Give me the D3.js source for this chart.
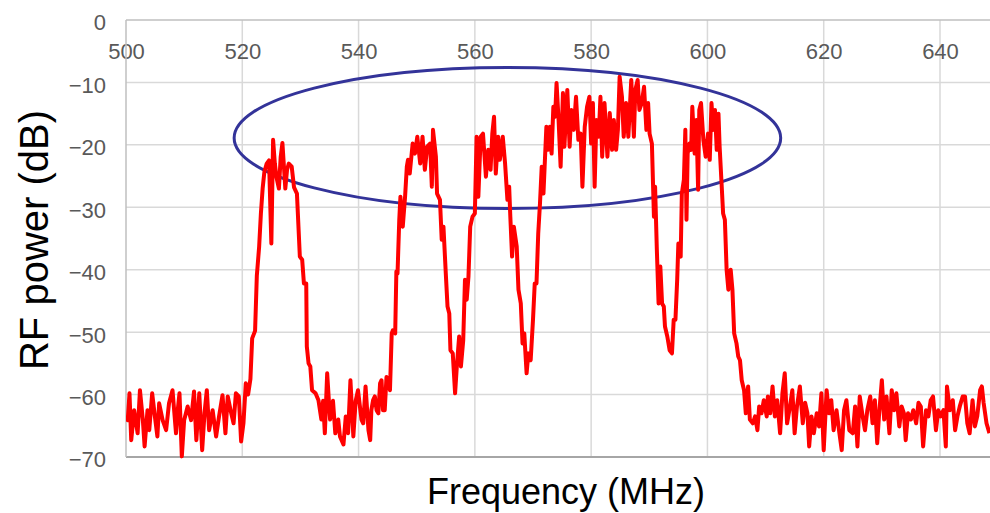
<!DOCTYPE html>
<html>
<head>
<meta charset="utf-8">
<script src="https://cdn.jsdelivr.net/npm/d3@7"></script>
<style>
  html, body { margin: 0; padding: 0; background: #fff; }
  svg { display: block; }
  text { font-family: "Liberation Sans", Arial, sans-serif; }
</style>
</head>
<body>
<svg id="chart" width="990" height="513"></svg>
<script>
// ---- data ----
const xTicks = [500, 520, 540, 560, 580, 600, 620, 640];
const yTicks = [0, -10, -20, -30, -40, -50, -60, -70];

const freqMHz = [
  500.0,500.3,500.6,500.9,501.4,502.0,502.4,502.9,503.2,503.7,504.0,504.5,504.9,505.4,505.7,506.3,506.9,507.4,508.0,508.6,
  508.9,509.2,509.6,510.0,510.6,511.2,511.7,512.1,512.6,513.1,513.5,513.9,514.3,514.9,515.5,516.0,516.6,517.1,517.5,518.1,
  518.5,518.9,519.4,519.8,520.2,520.6,521.0,521.4,521.7,522.2,522.5,522.9,523.2,523.5,523.8,524.2,524.6,525.0,525.3,525.6,
  525.9,526.3,526.6,526.9,527.2,527.4,527.7,528.0,528.5,528.9,529.4,529.9,530.3,530.6,531.0,531.1,531.4,531.7,532.0,532.6,
  533.1,533.6,533.9,534.2,534.6,535.1,535.6,536.0,536.5,536.8,537.4,537.8,538.2,538.6,539.1,539.5,539.9,540.5,540.8,541.2,
  541.7,542.0,542.2,542.5,542.8,543.1,543.4,543.7,543.95,544.2,544.5,544.8,545.1,545.4,545.7,545.9,546.3,546.5,546.7,547.0,
  547.2,547.6,548.0,548.3,548.5,548.8,549.3,549.7,550.1,550.6,551.0,551.4,551.8,552.3,552.6,552.8,553.3,553.5,554.0,554.3,
  554.6,555.0,555.3,555.6,555.8,556.2,556.6,556.9,557.3,557.6,558.0,558.3,558.6,558.9,559.2,559.6,560.0,560.3,560.6,561.0,
  561.4,561.9,562.3,562.7,563.0,563.3,563.6,564.0,564.3,564.8,565.2,565.6,565.9,566.1,566.4,566.7,567.2,567.5,567.9,568.2,
  568.5,568.9,569.2,569.6,570.0,570.3,570.6,570.9,571.2,571.5,571.8,572.0,572.3,572.6,572.9,573.2,573.5,573.8,574.05,574.4,
  574.75,575.15,575.4,575.9,576.3,576.6,577.0,577.4,577.8,578.2,578.5,578.9,579.3,579.7,580.0,580.3,580.6,580.9,581.3,581.6,
  581.9,582.3,582.8,583.2,583.6,583.9,584.3,584.6,584.9,585.3,585.6,586.0,586.4,586.9,587.35,587.6,588.0,588.3,588.7,589.1,
  589.5,589.8,590.05,590.45,590.8,591.0,591.3,591.6,591.9,592.2,592.5,592.7,593.1,593.5,593.9,594.2,594.5,594.8,595.0,595.4,
  595.6,595.95,596.2,596.4,596.6,596.9,597.2,597.4,597.8,598.1,598.4,598.6,598.9,599.3,599.7,600.1,600.4,600.7,601.0,601.3,
  601.6,601.9,602.1,602.4,602.7,603.0,603.3,603.6,604.0,604.3,604.6,605.0,605.3,605.6,605.9,606.3,606.6,607.0,607.3,607.8,
  608.2,608.6,608.9,609.3,609.7,610.2,610.4,610.8,611.2,611.6,612.0,612.5,612.9,613.3,613.7,614.2,614.6,615.0,615.4,615.9,
  616.4,616.8,617.2,617.5,617.9,618.3,618.8,619.2,619.6,620.0,620.5,620.9,621.3,621.7,622.2,622.7,623.1,623.5,623.9,624.4,
  625.0,625.4,625.8,626.2,626.7,627.1,627.5,628.0,628.4,628.8,629.2,629.5,630.0,630.4,630.8,631.3,631.7,632.1,632.5,633.0,
  633.4,633.8,634.1,634.5,635.0,635.4,635.9,636.3,636.7,637.1,637.6,638.0,638.4,638.8,639.3,639.7,640.1,640.6,641.0,641.2,
  641.7,642.2,642.6,643.0,643.4,643.9,644.3,644.7,645.1,645.6,646.0,646.4,646.9,647.2,647.5,648.0,648.5
];

const powerDb = [
  -63.5,-64.1,-59.8,-67.3,-62.5,-66.2,-59.3,-64.1,-68.3,-62.5,-65.7,-59.8,-63.0,-66.7,-61.4,-64.1,-65.7,-61.4,-59.3,-66.2,
  -62.5,-59.8,-69.9,-64.1,-61.9,-64.1,-59.5,-67.3,-59.8,-68.9,-63.0,-59.3,-65.7,-62.5,-66.7,-63.5,-60.1,-66.2,-60.3,-63.0,
  -64.6,-59.8,-60.3,-67.5,-64.6,-58.2,-60.0,-57.5,-51.0,-49.8,-41.0,-36.3,-31.0,-27.0,-24.3,-23.0,-22.5,-35.8,-19.2,-23.0,
  -25.3,-27.0,-22.0,-19.7,-24.0,-27.0,-24.0,-23.0,-23.5,-26.8,-27.8,-37.9,-38.4,-42.2,-42.2,-52.3,-55.0,-55.5,-59.3,-59.8,
  -60.9,-64.0,-61.0,-66.2,-56.6,-64.0,-61.0,-66.2,-64.0,-66.7,-68.0,-63.5,-66.2,-57.7,-66.7,-61.0,-59.3,-64.0,-64.6,-58.7,
  -65.7,-67.3,-62.5,-60.9,-60.3,-62.5,-63.0,-58.2,-57.7,-62.5,-62.5,-57.2,-57.7,-59.3,-50.2,-49.7,-50.2,-40.3,-40.6,-32.0,
  -28.3,-33.1,-28.3,-23.5,-22.4,-24.6,-19.8,-21.4,-18.7,-23.0,-18.7,-24.0,-20.3,-19.8,-26.7,-17.6,-21.9,-27.8,-28.8,-35.2,
  -33.1,-40.6,-45.9,-47.0,-52.9,-53.4,-59.8,-55.5,-50.7,-55.5,-51.3,-41.6,-44.8,-41.1,-33.1,-31.5,-31.0,-18.7,-28.3,-18.7,
  -18.2,-25.1,-20.8,-24.0,-18.2,-15.5,-24.6,-18.7,-22.4,-18.7,-23.0,-28.8,-26.7,-31.5,-37.9,-33.1,-36.3,-43.2,-45.4,-51.8,
  -50.2,-56.6,-53.4,-54.5,-48.0,-42.2,-42.2,-34.2,-29.4,-23.5,-27.8,-23.5,-17.1,-20.8,-17.1,-21.4,-13.9,-15.5,-10.1,-16.0,
  -23.5,-11.7,-20.3,-11.2,-20.3,-14.4,-17.6,-12.3,-19.2,-18.2,-26.7,-17.1,-13.9,-12.3,-19.8,-13.3,-26.7,-16.0,-18.7,-12.3,
  -21.9,-13.3,-21.9,-14.9,-20.8,-16.0,-20.8,-17.6,-9.1,-12.3,-18.7,-13.3,-18.7,-9.6,-18.7,-11.2,-9.6,-14.4,-13.3,-10.7,
  -17.6,-13.3,-18.2,-19.8,-31.5,-26.7,-36.8,-45.4,-39.5,-45.4,-45.9,-49.1,-50.7,-52.9,-53.4,-48.0,-48.0,-41.6,-35.8,-37.9,
  -27.8,-25.6,-17.6,-32.0,-21.4,-19.8,-20.8,-13.9,-21.4,-16.0,-27.2,-14.4,-13.3,-19.2,-21.9,-18.2,-22.4,-13.3,-17.6,-14.4,
  -20.8,-15.0,-20.3,-25.6,-31.0,-32.0,-40.0,-43.2,-40.0,-43.2,-50.2,-51.8,-53.9,-54.5,-57.7,-59.3,-63.0,-58.7,-64.0,-64.6,
  -63.5,-65.7,-61.9,-63.0,-60.9,-63.5,-60.3,-63.0,-58.7,-63.5,-60.9,-66.2,-59.8,-56.6,-64.6,-61.9,-59.3,-66.2,-61.9,-58.7,
  -64.6,-61.3,-63.0,-68.3,-63.5,-66.2,-63.0,-65.1,-59.8,-68.9,-59.3,-63.0,-60.9,-65.7,-62.5,-66.2,-68.9,-62.5,-60.9,-65.7,
  -66.2,-61.9,-68.3,-60.3,-63.5,-65.7,-62.5,-60.3,-64.6,-60.9,-67.8,-63.5,-57.7,-64.0,-60.3,-66.2,-59.3,-62.5,-59.8,-65.1,
  -61.9,-63.0,-67.3,-63.0,-64.0,-62.5,-64.6,-61.3,-61.9,-68.3,-62.5,-63.5,-60.9,-60.3,-65.7,-62.5,-63.5,-62.5,-68.3,-58.7,
  -62.5,-60.9,-65.7,-63.5,-61.9,-60.3,-60.3,-64.6,-66.2,-60.9,-65.1,-63.5,-59.3,-58.7,-61.3,-64.6,-66.2
];

// highlight ellipse (data units): centre frequency, centre power, half-widths
const ellipseCenter = [565.6, -18.9];
const ellipseRadii = [47.0, 11.3];

// ---- drawing ----
const svg = d3.select("#chart");
const mLeft = 126, mRight = 990, mTop = 20, mBottom = 457;
const xMin = 500, xMax = 648.6;

const x = d3.scaleLinear().domain([xMin, xMax]).range([mLeft, mRight]);
const y = d3.scaleLinear().domain([-70, 0]).range([mBottom, mTop]);

// horizontal gridlines
svg.append("g").selectAll("line")
  .data(yTicks.filter(d => d !== 0 && d !== -70))
  .join("line")
  .attr("x1", mLeft).attr("x2", mRight)
  .attr("y1", d => y(d)).attr("y2", d => y(d))
  .attr("stroke", "#d9d9d9").attr("stroke-width", 1.5);

// vertical gridlines
svg.append("g").selectAll("line")
  .data(xTicks.filter(d => d !== 500))
  .join("line")
  .attr("x1", d => x(d)).attr("x2", d => x(d))
  .attr("y1", mTop).attr("y2", mBottom)
  .attr("stroke", "#d9d9d9").attr("stroke-width", 1.5);

// bottom line
svg.append("line")
  .attr("x1", mLeft).attr("x2", mRight)
  .attr("y1", y(-70)).attr("y2", y(-70))
  .attr("stroke", "#a6a6a6").attr("stroke-width", 2);

// top (x) axis with labels below the line
const xAxis = d3.axisTop(x).tickValues(xTicks).tickSize(0).tickPadding(0).tickFormat(d3.format("d"));
const gx = svg.append("g").attr("transform", `translate(0,${mTop})`).call(xAxis);
gx.select(".domain").attr("stroke", "#bfbfbf").attr("stroke-width", 1.5)
  .attr("d", `M${mLeft},0H${mRight}`);
gx.selectAll("text")
  .attr("y", 39).attr("dy", 0)
  .attr("fill", "#595959").attr("font-size", 22)
  .attr("font-family", "Liberation Sans, Arial, sans-serif");

// left (y) axis
const yAxis = d3.axisLeft(y).tickValues(yTicks).tickSize(0).tickPadding(20).tickFormat(d3.format("d"));
const gy = svg.append("g").attr("transform", `translate(${mLeft},0)`).call(yAxis);
gy.select(".domain").attr("stroke", "#bfbfbf").attr("stroke-width", 1.5)
  .attr("d", `M0,${mTop}V${mBottom}`);
gy.selectAll("text")
  .attr("dy", "0.45em")
  .attr("fill", "#595959").attr("font-size", 22)
  .attr("font-family", "Liberation Sans, Arial, sans-serif");

// clip
svg.append("clipPath").attr("id", "plotClip")
  .append("rect").attr("x", mLeft).attr("y", 0).attr("width", mRight - mLeft).attr("height", mBottom + 4);

// ellipse
svg.append("ellipse")
  .attr("cx", x(ellipseCenter[0])).attr("cy", y(ellipseCenter[1]))
  .attr("rx", x(ellipseCenter[0] + ellipseRadii[0]) - x(ellipseCenter[0]))
  .attr("ry", y(ellipseCenter[1] - ellipseRadii[1]) - y(ellipseCenter[1]))
  .attr("fill", "none").attr("stroke", "#333399").attr("stroke-width", 3);

// spectrum line
const points = freqMHz.map((f, i) => [f, powerDb[i]]);
svg.append("path")
  .datum(points)
  .attr("clip-path", "url(#plotClip)")
  .attr("fill", "none")
  .attr("stroke", "#ff0000")
  .attr("stroke-width", 4)
  .attr("stroke-linejoin", "round")
  .attr("d", d3.line().x(d => x(d[0])).y(d => y(d[1])));

// axis titles
svg.append("text")
  .attr("x", 566).attr("y", 504)
  .attr("text-anchor", "middle")
  .attr("font-size", 36).attr("fill", "#000")
  .text("Frequency (MHz)");

svg.append("text")
  .attr("transform", "translate(48,240) rotate(-90)")
  .attr("text-anchor", "middle")
  .attr("font-size", 40).attr("fill", "#000")
  .text("RF power (dB)");
</script>
</body>
</html>
